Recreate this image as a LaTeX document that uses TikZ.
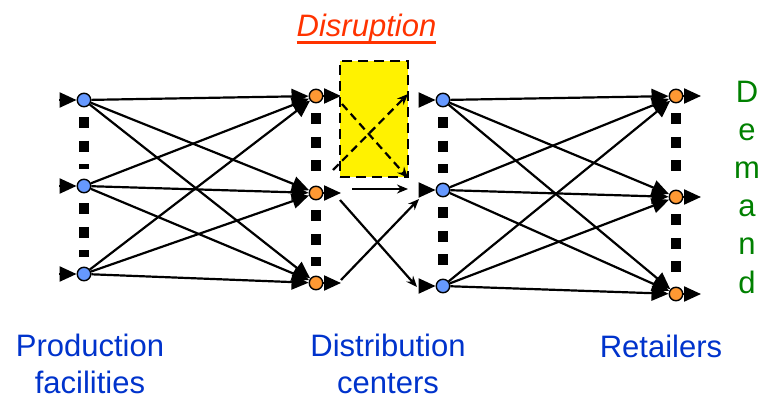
\documentclass[tikz,border=0pt]{standalone}
\usepackage{fontspec}
\setmainfont{Liberation Sans}
\usetikzlibrary{arrows.meta}
\definecolor{nodeblue}{RGB}{102,153,255}
\definecolor{nodeorange}{RGB}{255,153,51}
\definecolor{tierblue}{RGB}{0,51,204}
\definecolor{demandgreen}{RGB}{0,128,0}
\definecolor{disruptred}{RGB}{255,51,0}
\newcommand{\thickunder}[1]{\setbox0\hbox{#1}\rlap{\raisebox{-6.6pt}{\rule{\wd0}{2.6pt}}}\box0}

\begin{document}
\begin{tikzpicture}[x=1pt,y=-1pt,->,>={Triangle[length=17pt,width=15pt]},line width=2.2pt,
  blue node/.style={circle,draw,line width=1.4pt,fill=nodeblue,inner sep=0pt,minimum size=13.5pt},
  orange node/.style={circle,draw,line width=1.4pt,fill=nodeorange,inner sep=0pt,minimum size=13.5pt},
  dots/.style={-,line width=10.5pt,dash pattern=on 11pt off 12.3pt,shorten <=10pt,shorten >=10pt},
  mid/.style={-{Stealth[length=11pt,width=9pt]}},
  tier/.style={font=\fontsize{31}{37}\selectfont,text=tierblue,align=center,anchor=base,inner sep=0pt}]
  \useasboundingbox (0,0) rectangle (759,398);

  \node[blue node] (P1) at (84,100) {};
  \node[blue node] (P2) at (84,186) {};
  \node[blue node] (P3) at (84,274) {};
  \node[orange node] (D1) at (316,96) {};
  \node[orange node] (D2) at (316,193) {};
  \node[orange node] (D3) at (316,283) {};
  \node[blue node] (E1) at (443,100) {};
  \node[blue node] (E2) at (443,190) {};
  \node[blue node] (E3) at (443,286) {};
  \node[orange node] (R1) at (676,96) {};
  \node[orange node] (R2) at (676,197) {};
  \node[orange node] (R3) at (676,294) {};

  \coordinate (p1in) at (59,100);
  \coordinate (p2in) at (59,186);
  \coordinate (p3in) at (59,274);
  \coordinate (d1out) at (341,96);
  \coordinate (d2out) at (341,193);
  \coordinate (d3out) at (341,283);
  \coordinate (e1in) at (419,100);
  \coordinate (e2in) at (419,190);
  \coordinate (e3in) at (419,286);
  \coordinate (r1out) at (701,96);
  \coordinate (r2out) at (701,197);
  \coordinate (r3out) at (701,294);

  % dotted columns
  \draw[dots] (P1) -- (P2);
  \draw[dots] (P2) -- (P3);
  \draw[dots] (D1) -- (D2);
  \draw[dots] (D2) -- (D3);
  \draw[dots] (E1) -- (E2);
  \draw[dots] (E2) -- (E3);
  \draw[dots] (R1) -- (R2);
  \draw[dots] (R2) -- (R3);

\path
  (P1) edge (D1) (P1) edge (D2) (P1) edge (D3)
  (P2) edge (D1) (P2) edge (D2) (P2) edge (D3)
  (P3) edge (D1) (P3) edge (D2) (P3) edge (D3)
  (E1) edge (R1) (E1) edge (R2) (E1) edge (R3)
  (E2) edge (R1) (E2) edge (R2) (E2) edge (R3)
  (E3) edge (R1) (E3) edge (R2) (E3) edge (R3)
  (p1in) edge (P1) (p2in) edge (P2) (p3in) edge (P3)
  (D1) edge (d1out) (D2) edge (d2out) (D3) edge (d3out)
  (e1in) edge (E1) (e2in) edge (E2) (e3in) edge (E3)
  (R1) edge (r1out) (R2) edge (r2out) (R3) edge (r3out)
;

  % disruption box and the links across it
  \node[draw,fill=yellow,line width=2.4pt,dash pattern=on 10pt off 6pt,minimum width=68pt,minimum height=116pt,inner sep=0pt] (box) at (374,119) {};
  \coordinate (xa) at (342,104);
  \coordinate (xb) at (408,178);
  \coordinate (ya) at (333,170);
  \coordinate (yb) at (408,94);
  \coordinate (ha) at (352,189);
  \coordinate (hb) at (408,189);
  \coordinate (da) at (340,200);
  \coordinate (db) at (417,287);
  \coordinate (ua) at (341,280);
  \coordinate (ub) at (419,199);
  \draw[mid,dash pattern=on 8pt off 5pt] (xa) -- (xb);
  \draw[mid,dash pattern=on 8pt off 5pt] (ya) -- (yb);
  \draw[mid] (ha) -- (hb);
  \draw[mid] (da) -- (db);
  \draw[mid] (ua) -- (ub);

  \node[tier,text=disruptred] (disruption) at (366.5,37) {\itshape\thickunder{Disruption}};
  \node[tier] (production) at (90,393) {Production\\facilities};
  \node[tier] (distribution) at (388,393) {Distribution\\centers};
  \node[tier] (retailers) at (661,357) {Retailers};
  \node[tier,text=demandgreen,font=\fontsize{31}{38.2}\selectfont] (demand) at (747,293) {D\\e\\m\\a\\n\\d};
\end{tikzpicture}
\end{document}
